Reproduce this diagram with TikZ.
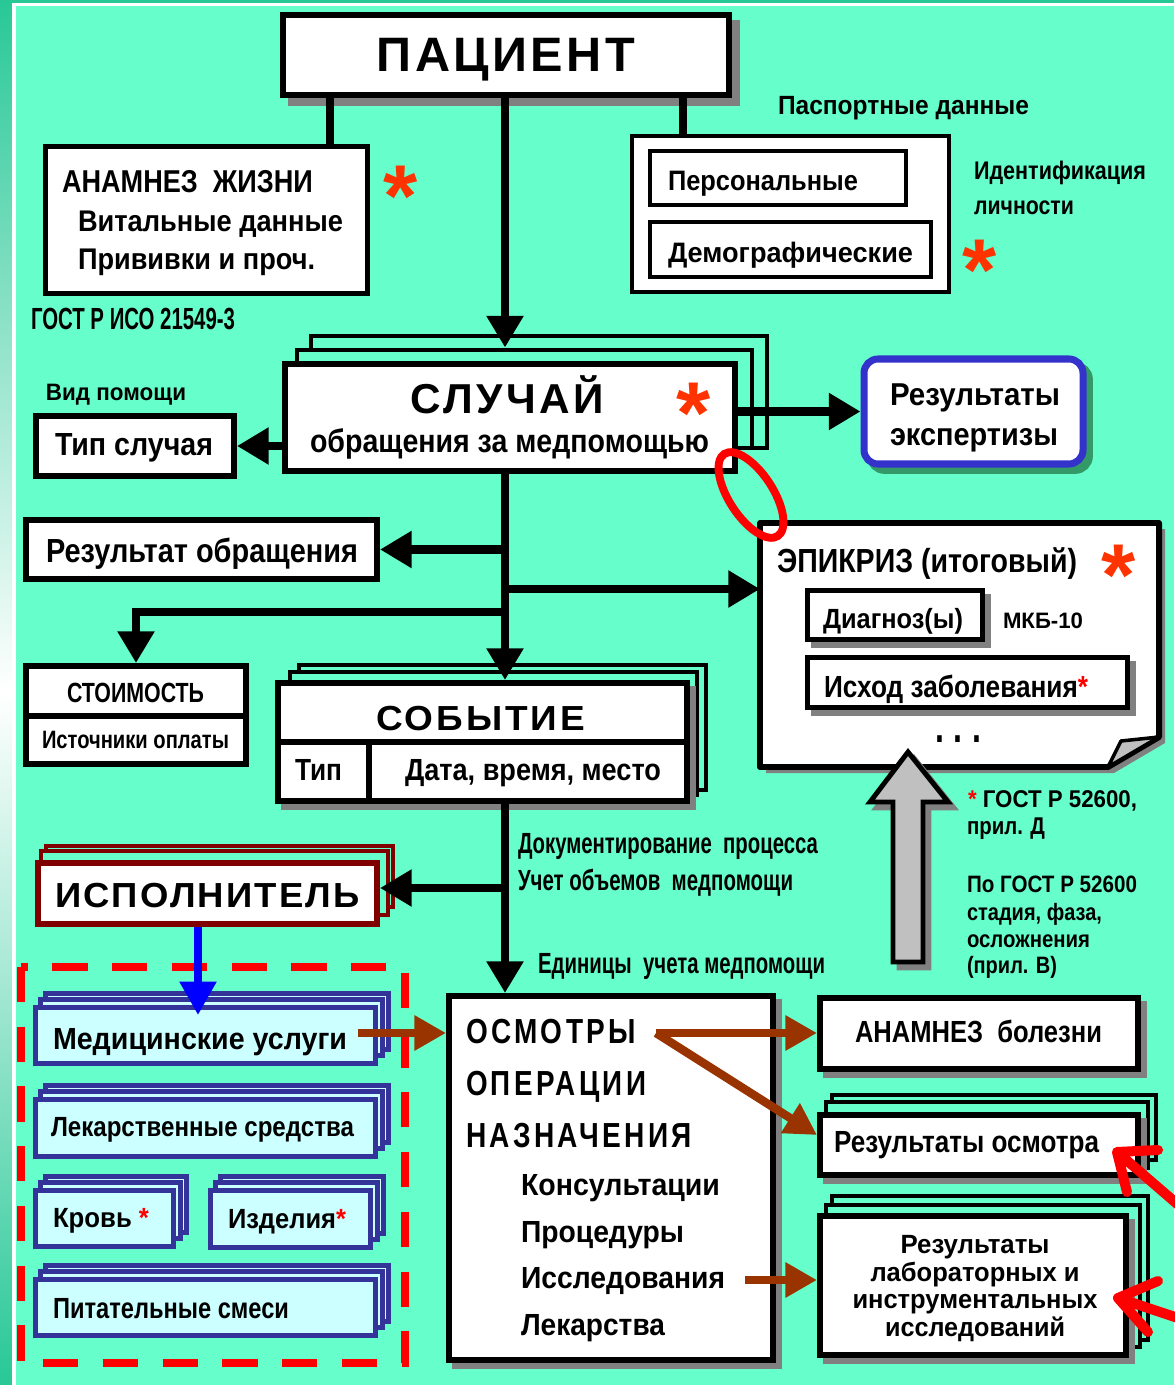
\documentclass[tikz,border=0pt]{standalone}
\usepackage{fontspec}
\setmainfont{Liberation Sans}
\usepackage{graphicx}
\usetikzlibrary{arrows.meta,shadows,calc}
\definecolor{bgc}{RGB}{102,255,204}
\definecolor{teal1}{RGB}{40,200,150}
\definecolor{shg}{RGB}{128,128,128}
\definecolor{ast}{RGB}{255,51,0}
\definecolor{dred}{RGB}{128,0,0}
\definecolor{navy}{RGB}{51,51,153}
\definecolor{lcyan}{RGB}{204,255,255}
\definecolor{brn}{RGB}{153,51,0}
\definecolor{bblue}{RGB}{51,51,204}
\definecolor{gsh}{RGB}{51,153,102}
\definecolor{lgrey}{RGB}{192,192,192}
\newdimen\pxu \pxu=0.02cm
\newcommand\T[3]{\resizebox{#1\pxu}{\height}{\fontsize{#2pt}{#2pt}\selectfont\bfseries #3}}
\newcommand\TS[4]{\resizebox{#1\pxu}{\height}{\fontsize{#2pt}{#2pt}\selectfont\bfseries\addfontfeature{LetterSpace=#3}#4}}
\newcommand\bx[6][]{\node[box,#1,minimum width={((#4)-(#2))*0.02cm},minimum height={((#5)-(#3))*0.02cm}] (#6) at ({((#2)+(#4))/2},{((#3)+(#5))/2}) {};}
\newcommand\bstack[5]{%
  \bx[blay]{#1+10}{#2-14}{#3+13}{#4-14}{#5c}%
  \bx[blay]{#1+5}{#2-8}{#3+7}{#4-8}{#5b}%
  \bx[bbox]{#1}{#2}{#3}{#4}{#5}}
\tikzset{
  box/.style={draw=black, fill=white, line width=3.4pt, inner sep=0pt, rectangle},
  shd/.style={general shadow={fill=shg, draw=shg, shadow xshift=3.6pt, shadow yshift=-3.6pt}},
  shd8/.style={general shadow={fill=shg, draw=shg, shadow xshift=4.5pt, shadow yshift=-4.5pt}},
  lay/.style={draw=black, fill=bgc, line width=2.8pt},
  dlay/.style={draw=dred, fill=bgc, line width=2.8pt},
  blay/.style={draw=navy, fill=lcyan, line width=2.3pt},
  bbox/.style={draw=navy, fill=lcyan, line width=2.8pt},
  thinbox/.style={line width=2.8pt},
  conn/.style={draw=black, line width=5.1pt, -{Triangle[length=18pt,width=20pt]}},
  plain/.style={draw=black, line width=5.1pt},
  bconn/.style={draw=blue, line width=4.5pt, -{Triangle[length=19pt,width=20pt]}},
  brconn/.style={draw=brn, line width=4.8pt, -{Triangle[length=18pt,width=19pt]}},
  txt/.style={inner sep=0pt, outer sep=0pt, font=\bfseries},
  bigast/.style={txt, anchor=base, text=ast},
}
\begin{document}
\begin{tikzpicture}[x=0.02cm,y=-0.02cm]
\useasboundingbox (0,0) rectangle (1174,1385);
\fill[bgc] (0,0) rectangle (1174,1385);
\shade[top color=teal1, bottom color=teal1, middle color=white] (0,0) rectangle (12,1385);
\fill[white] (12,3) rectangle (16,1385);
\fill[teal1] (0,0) rectangle (1174,3);
\fill[white] (12,3) rectangle (1174,6);

% ---------------- boxes ----------------
\bx[shd8]{283}{15}{729}{95}{pac}
\bx[thinbox]{45.5}{146.5}{367.5}{293.5}{anl}
\bx[thinbox]{632}{136}{949}{292}{pp}
\bx[thinbox]{650}{151}{906}{205}{pers}
\bx[thinbox]{650}{222}{931}{277}{demo}

\bx[lay]{311}{336}{767}{448}{sl3}
\bx[lay]{297}{350}{752}{448}{sl2}
\bx{285}{364}{735}{471}{sl}

\bx[draw=bblue, line width=4pt, rounded corners=8pt, general shadow={fill=gsh, draw=gsh, shadow xshift=3.6pt, shadow yshift=-3.6pt}]{864}{359}{1083}{464}{exp}

\bx{36}{416}{234}{476}{tip}
\bx{26}{520}{377}{579}{res}
\bx{26}{666}{246}{764}{sto}
\draw[line width=3pt] (sto.west |- 0,716) -- (sto.east |- 0,716);

\bx[lay]{299}{665}{706}{790}{sob3}
\bx[lay]{290}{672}{697}{795}{sob2}
\bx[shd]{278}{683}{687}{801}{sob}
\draw[line width=3.4pt] (sob.west |- 0,742) -- (sob.east |- 0,742);
\draw[line width=3.4pt] (369,742) -- (369,0 |- sob.south);

% epicrisis (folded note)
\bx[draw=none, fill=none, outer sep=0pt]{760}{523}{1159}{767}{epi}
\fill[shg] ($(epi.north west)+(6,6)$) -- ($(epi.north east)+(6,6)$) -- ($(epi.south east)+(6,-24)$) -- ($(epi.south east)+(-45,6)$) -- ($(epi.south west)+(6,6)$) -- cycle;
\draw[line width=3.4pt, fill=white, line join=round] (epi.north west) -- (epi.north east) -- ($(epi.south east)+(0,-30)$) -- ($(epi.south east)+(-51,0)$) -- (epi.south west) -- cycle;
\draw[line width=2pt, fill=lgrey, line join=round] ($(epi.south east)+(-51,0)$) -- ($(epi.south east)+(-38,-26)$) -- ($(epi.south east)+(0,-30)$) -- cycle;
\bx[shd,thinbox]{807.5}{590.5}{982.5}{639.5}{diag}
\bx[shd,thinbox]{807.5}{657.5}{1127.5}{707.5}{ish}

\bx[dlay]{46}{846}{393}{907}{isp3}
\bx[dlay]{41}{851}{388}{915}{isp2}
\bx[draw=dred]{38}{863}{377}{924}{isp}

\bstack{35.5}{1007.5}{375.5}{1063.5}{med}
\bstack{35.5}{1099.5}{375.5}{1156.5}{lek}
\bstack{35.5}{1190.5}{173.5}{1246.5}{krv}
\bstack{210.5}{1190.5}{370.5}{1247.5}{izd}
\bstack{35.5}{1279.5}{375.5}{1335.5}{pit}

\bx[shd]{449}{996}{773}{1360}{osm}
\bx[shd]{820}{998}{1138}{1069}{anb}
\bx[lay]{832}{1095}{1156}{1160}{ros3}
\bx[lay]{826}{1102}{1148}{1168}{ros2}
\bx[shd]{820}{1115}{1138}{1175}{ros}
\bx[lay]{832}{1196}{1148}{1340}{lab3}
\bx[lay]{826}{1205}{1140}{1347}{lab2}
\bx[shd]{820}{1216}{1126}{1355}{lab}

% red dashed frame
\draw[red, line width=5.1pt, dash pattern=on 20pt off 14pt] (21,967) rectangle (405,1363);

% ---------------- connectors ----------------
\draw[plain] (330,0 |- pac.south) -- (330,0 |- anl.north);
\draw[plain] (683,0 |- pac.south) -- (683,0 |- pp.north);
\draw[conn] (505,0 |- pac.south) -- (505,0 |- sl2.north);
\draw[conn] (sl.east |- exp.west) -- (exp.west);
\draw[conn] (sl.west |- tip.east) -- (tip.east);
\draw[conn] (505,0 |- sl.south) -- (505,0 |- sob.north);
\draw[conn] (505,0 |- res.east) -- (res.east);
\coordinate (j1) at (505,589);
\draw[conn] (j1) -- (j1 -| epi.west);
\coordinate (j2) at (505,612);
\draw[conn] (j2) -| (sto.north);
\draw[conn] (505,0 |- sob.south) -- (505,0 |- osm.north);
\coordinate (j3) at (505,888);
\draw[conn] (j3) -- (j3 -| isp.east);
\draw[bconn] (198,0 |- isp.south) -- ($(198,0 |- med.north)+(0,10)$);
\coordinate (b1) at (358,1033);
\draw[brconn] (b1) -- (b1 -| osm.west);
\coordinate (b2) at (656,1033);
\draw[brconn] (b2) -- (b2 -| anb.west);
\draw[brconn] (b2) -- ($(ros.west)+(0,-10)$);
\coordinate (b3) at (745,1280);
\draw[brconn] (b3) -- (b3 -| lab.west);

% grey block arrow
\draw[shg, fill=shg, line width=2.8pt, line join=miter] (914,758) -- (954,808) -- (929,808) -- (929,968) -- (899,968) -- (899,808) -- (876,808) -- cycle;
\draw[black, fill=lgrey, line width=2.8pt, line join=miter] (908,752) -- (948,802) -- (923,802) -- (923,962) -- (893,962) -- (893,802) -- (870,802) -- cycle;

% ---------------- texts ----------------
\node[txt, anchor=base] (tpac) at (506,72) {\TS{258}{27.5}{7}{ПАЦИЕНТ}};
\node[txt, anchor=base west] (ta1) at (62,193) {\T{251}{18}{АНАМНЕЗ\ \ ЖИЗНИ}};
\node[txt, anchor=base west] (ta2) at (78,232) {\T{265}{17}{Витальные данные}};
\node[txt, anchor=base west] (ta3) at (78,270) {\T{237}{17}{Прививки и проч.}};
\node[txt, anchor=base west] (tgost) at (31,330) {\T{204}{17.4}{ГОСТ Р ИСО 21549-3}};
\node[txt, anchor=base west] (tpasp) at (778,115) {\T{251}{15}{Паспортные данные}};
\node[txt, anchor=base west] (tpers) at (668,191) {\T{190}{16}{Персональные}};
\node[txt, anchor=base west] (tdemo) at (668,263) {\T{245}{16}{Демографические}};
\node[txt, anchor=base west] (tid1) at (974,180) {\T{172}{14.5}{Идентификация}};
\node[txt, anchor=base west] (tid2) at (974,215) {\T{100}{14.5}{личности}};
\node[txt, anchor=base west] (tvid) at (46,400) {\T{140}{13.5}{Вид помощи}};
\node[txt, anchor=base west] (ttip) at (55,455) {\T{158}{18.2}{Тип случая}};
\node[txt, anchor=base] (tsl1) at (507,413) {\TS{193}{23.8}{8}{СЛУЧАЙ}};
\node[txt, anchor=base west] (tsl2) at (310,452) {\T{399}{18.5}{обращения за медпомощью}};
\node[txt, anchor=base west] (texp1) at (890,405) {\T{170}{18}{Результаты}};
\node[txt, anchor=base west] (texp2) at (890,445) {\T{168}{18}{экспертизы}};
\node[txt, anchor=base west] (tres) at (46,562) {\T{312}{19}{Результат обращения}};
\node[txt, anchor=base west] (tsto1) at (67,702) {\T{137}{15.8}{СТОИМОСТЬ}};
\node[txt, anchor=base west] (tsto2) at (42,748) {\T{187}{14.3}{Источники оплаты}};
\node[txt, anchor=base west] (tsob) at (376,730) {\TS{209}{19.8}{8}{СОБЫТИЕ}};
\node[txt, anchor=base west] (ttip2) at (295,780) {\T{47}{17.4}{Тип}};
\node[txt, anchor=base west] (tdat) at (405,780) {\T{256}{17.4}{Дата, время, место}};
\node[txt, anchor=base west] (tepi) at (777,572) {\T{300}{19}{ЭПИКРИЗ (итоговый)}};
\node[txt, anchor=base west] (tdiag) at (823,628) {\T{140}{15.8}{Диагноз(ы)}};
\node[txt, anchor=base west] (tmkb) at (1003,628) {\T{80}{12.7}{МКБ-10}};
\node[txt, anchor=base west] (tish) at (824,697) {\T{264}{17.4}{Исход заболевания\textcolor{red}{*}}};
\node[txt, anchor=base west] (tdots) at (935,742) {\TS{46}{26}{30}{...}};
\node[txt, anchor=base west] (tg1) at (968,807) {\T{169}{13.8}{\textcolor{red}{*} ГОСТ Р 52600,}};
\node[txt, anchor=base west] (tg2) at (967,834) {\T{78}{13.8}{прил. Д}};
\node[txt, anchor=base west] (tg3) at (967,892) {\T{170}{13.5}{По ГОСТ Р 52600}};
\node[txt, anchor=base west] (tg4) at (967,920) {\T{135}{13.5}{стадия, фаза,}};
\node[txt, anchor=base west] (tg5) at (967,947) {\T{123}{13.5}{осложнения}};
\node[txt, anchor=base west] (tg6) at (967,973) {\T{90}{13.5}{(прил. В)}};
\node[txt, anchor=base west] (tdoc1) at (518,853) {\T{300}{16.6}{Документирование\ \ процесса}};
\node[txt, anchor=base west] (tdoc2) at (518,890) {\T{275}{16.6}{Учет объемов\ \ медпомощи}};
\node[txt, anchor=base west] (tdoc3) at (538,973) {\T{287}{16.6}{Единицы\ \ учета медпомощи}};
\node[txt, anchor=base west] (tisp) at (55,907) {\TS{305}{19.8}{6}{ИСПОЛНИТЕЛЬ}};
\node[txt, anchor=base west] (tmed) at (53,1049) {\T{294}{17.4}{Медицинские услуги}};
\node[txt, anchor=base west] (tlek) at (51,1136) {\T{303}{15.8}{Лекарственные средства}};
\node[txt, anchor=base west] (tkrv) at (53,1227) {\T{96}{15.8}{Кровь \textcolor{red}{*}}};
\node[txt, anchor=base west] (tizd) at (228,1228) {\T{118}{15.8}{Изделия\textcolor{red}{*}}};
\node[txt, anchor=base west] (tpit) at (53,1318) {\T{236}{16.6}{Питательные смеси}};
\node[txt, anchor=base west] (tosm1) at (466,1043) {\TS{170}{19.8}{12}{ОСМОТРЫ}};
\node[txt, anchor=base west] (tosm2) at (466,1095) {\TS{180}{19.8}{12}{ОПЕРАЦИИ}};
\node[txt, anchor=base west] (tosm3) at (466,1147) {\TS{226}{19.8}{12}{НАЗНАЧЕНИЯ}};
\node[txt, anchor=base west] (tk) at (521,1195) {\T{199}{17.4}{Консультации}};
\node[txt, anchor=base west] (tp) at (521,1242) {\T{163}{17.4}{Процедуры}};
\node[txt, anchor=base west] (ti) at (521,1288) {\T{204}{17.4}{Исследования}};
\node[txt, anchor=base west] (tl) at (521,1335) {\T{144}{17.4}{Лекарства}};
\node[txt, anchor=base west] (tanb) at (855,1042) {\T{247}{17.4}{АНАМНЕЗ\ \ болезни}};
\node[txt, anchor=base west] (tros) at (834,1152) {\T{265}{17.4}{Результаты осмотра}};
\node[txt, anchor=base] (tlab1) at (975,1253) {\T{149}{15}{Результаты}};
\node[txt, anchor=base] (tlab2) at (975,1281) {\T{209}{15}{лабораторных и}};
\node[txt, anchor=base] (tlab3) at (975,1308) {\T{245}{15}{инструментальных}};
\node[txt, anchor=base] (tlab4) at (975,1336) {\T{180}{15}{исследований}};

% big red asterisks
\node[bigast] (as1) at (401,227) {\fontsize{50pt}{50pt}\selectfont *};
\node[bigast] (as2) at (980,300) {\fontsize{50pt}{50pt}\selectfont *};
\node[bigast] (as3) at (694,443) {\fontsize{50pt}{50pt}\selectfont *};
\node[bigast] (as4) at (1119,605) {\fontsize{50pt}{50pt}\selectfont *};

% red highlight ellipse
\draw[red, line width=4.5pt, rotate around={-57:(751,495)}] (751,495) ellipse [x radius=49, y radius=22];

% red pointer arrows at right edge
\draw[red, line width=5.7pt, line cap=round, line join=round] (1190,1215) -- (1117,1152) (1158,1150) -- (1117,1152) -- (1127,1192);
\draw[red, line width=5.7pt, line cap=round, line join=round] (1190,1322) -- (1118,1298) (1158,1281) -- (1118,1298) -- (1148,1332);
\end{tikzpicture}
\end{document}
